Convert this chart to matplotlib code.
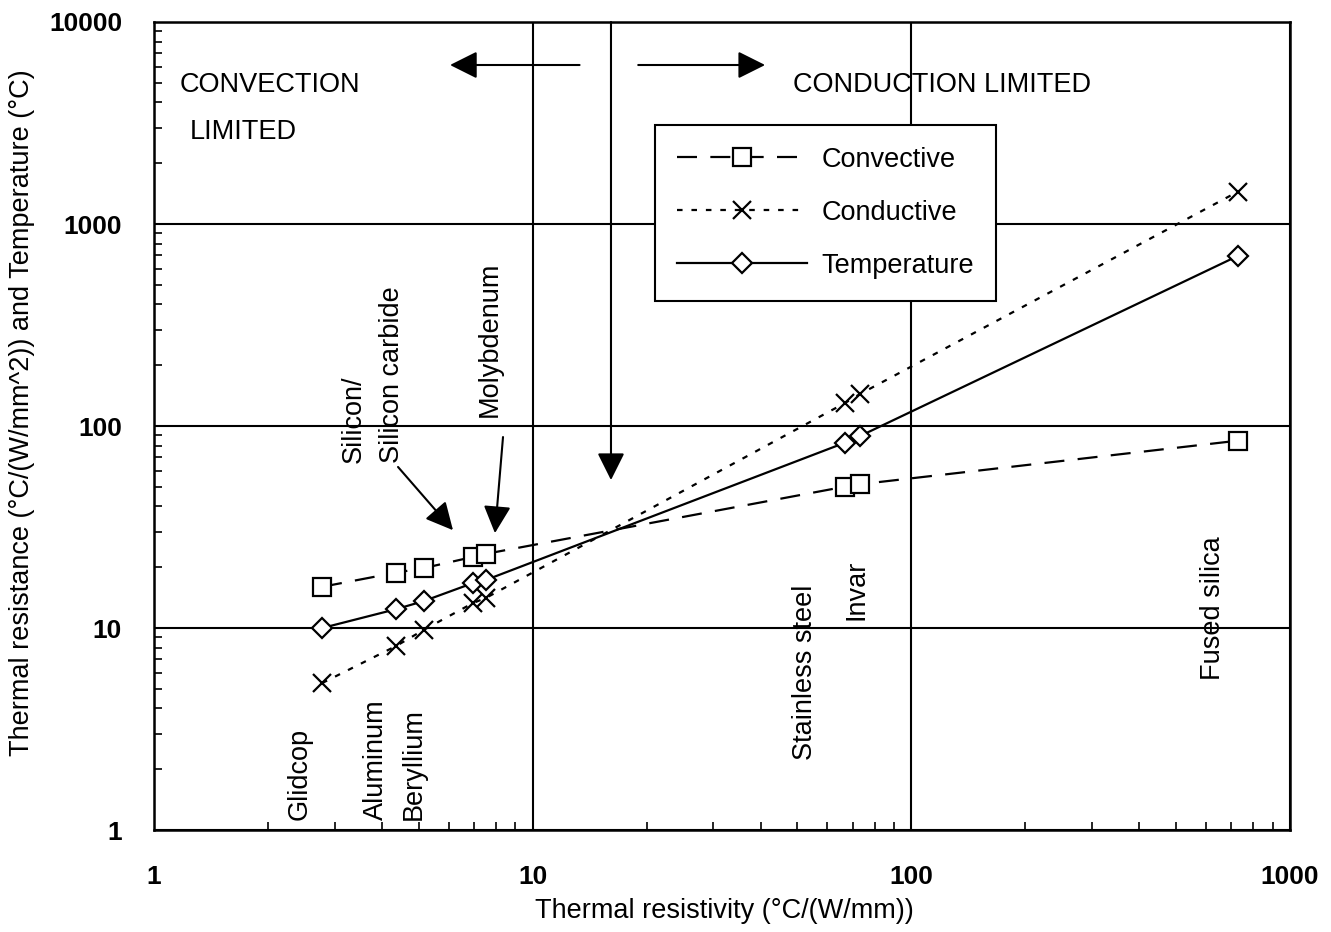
import numpy as np
import matplotlib
matplotlib.use('Agg')
import matplotlib.pyplot as plt
from matplotlib.ticker import LogLocator, FixedLocator, NullFormatter

plt.rcParams['font.family'] = ['Liberation Sans', 'DejaVu Sans']

# thermal resistivity of each material (°C/(W/mm))
resistivity = [2.78, 4.36, 5.16, 6.96, 7.53, 66.8, 73.2, 728]
# thermal resistance and temperature values
convective = [16.0, 18.8, 19.8, 22.5, 23.3, 50.1, 51.5, 84.6]
conductive = [5.34, 8.15, 9.8, 13.3, 14.1, 130, 144, 1445]
temperature = [10.0, 12.4, 13.6, 16.7, 17.3, 82.7, 89.2, 695]

fig = plt.figure(figsize=(13.31, 9.32), dpi=100)
ax = fig.add_axes([0.1157, 0.1094, 0.8535, 0.8670])

ax.plot(resistivity, convective, color='black', lw=1.6, dashes=(9, 6),
        marker='s', ms=13, mfc='white', mec='black', mew=1.6, label='Convective')
ax.plot(resistivity, conductive, color='black', lw=1.6, dashes=(2.5, 4),
        marker='x', ms=13, mec='black', mew=1.6, label='Conductive')
ax.plot(resistivity, temperature, color='black', lw=1.6, linestyle='-',
        marker='D', ms=10, mfc='white', mec='black', mew=1.6, label='Temperature')

ax.set_xscale('log')
ax.set_yscale('log')
ax.set_xlim(1, 1000)
ax.set_ylim(1, 10000)

ax.xaxis.set_major_locator(FixedLocator([1, 10, 100, 1000]))
ax.yaxis.set_major_locator(FixedLocator([1, 10, 100, 1000, 10000]))
ax.xaxis.set_major_formatter(plt.FuncFormatter(lambda v, p: '%d' % v))
ax.yaxis.set_major_formatter(plt.FuncFormatter(lambda v, p: '%d' % v))
ax.xaxis.set_minor_locator(LogLocator(base=10, subs=np.arange(2, 10), numticks=20))
ax.yaxis.set_minor_locator(LogLocator(base=10, subs=np.arange(2, 10), numticks=20))
ax.xaxis.set_minor_formatter(NullFormatter())
ax.yaxis.set_minor_formatter(NullFormatter())
ax.tick_params(which='both', direction='in', top=False, right=False)
ax.tick_params(which='major', length=0, labelsize=19)
ax.tick_params(axis='x', which='major', pad=25)
ax.tick_params(axis='y', which='major', pad=23)
ax.tick_params(which='minor', length=6, width=1.2)
for lab in ax.get_xticklabels() + ax.get_yticklabels():
    lab.set_fontweight('bold')

ax.grid(True, which='major', color='black', lw=1.5)
for s in ax.spines.values():
    s.set_linewidth(1.8)

ax.set_xlabel('Thermal resistivity (°C/(W/mm))', fontsize=19.5)
ax.set_ylabel('Thermal resistance (°C/(W/mm^2)) and Temperature (°C)', fontsize=19.5)
ax.xaxis.set_label_coords(0.502, -0.084)
ax.yaxis.set_label_coords(-0.105, 0.517)

# region labels
ax.text(0.0229, 0.922, 'CONVECTION', transform=ax.transAxes, fontsize=19.5, va='center')
ax.text(0.0317, 0.864, 'LIMITED', transform=ax.transAxes, fontsize=19.5, va='center')
ax.text(0.5625, 0.922, 'CONDUCTION LIMITED', transform=ax.transAxes, fontsize=19.5, va='center')

# arrows
big = dict(arrowstyle='-|>', mutation_scale=42, color='black', lw=1.5, shrinkA=0, shrinkB=0)
ax.annotate('', xy=(6.05, 6125), xytext=(13.3, 6125), arrowprops=big)
ax.annotate('', xy=(41.1, 6125), xytext=(19.0, 6125), arrowprops=big)
ax.annotate('', xy=(16.1, 54), xytext=(16.1, 10000), arrowprops=big)
ax.annotate('', xy=(6.16, 30.5), xytext=(4.41, 62.7), arrowprops=big)
ax.annotate('', xy=(7.95, 29.5), xytext=(8.35, 88.2), arrowprops=big)

# material labels
rot = dict(rotation=90, fontsize=19.5, ha='center', va='bottom')
ax.text(2.43, 1.12, 'Glidcop', **rot)
ax.text(3.86, 1.12, 'Aluminum', **rot)
ax.text(4.86, 1.12, 'Beryllium', **rot)
ax.text(3.79, 65.6, 'Silicon/\nSilicon carbide', multialignment='left',
        linespacing=1.6, **rot)
ax.text(7.71, 110.8, 'Molybdenum', **rot)
ax.text(52.4, 2.22, 'Stainless steel', **rot)
ax.text(71.8, 10.96, 'Invar', **rot)
ax.text(626, 5.53, 'Fused silica', **rot)

leg = ax.legend(loc='upper left', bbox_to_anchor=(0.441, 0.8725), fontsize=19.5,
                handlelength=4.8, numpoints=1, fancybox=False, framealpha=1,
                edgecolor='black', borderpad=0.8, labelspacing=1.0,
                handletextpad=0.55, borderaxespad=0)
leg.get_frame().set_linewidth(1.5)

fig.savefig('out.png', dpi=100)
